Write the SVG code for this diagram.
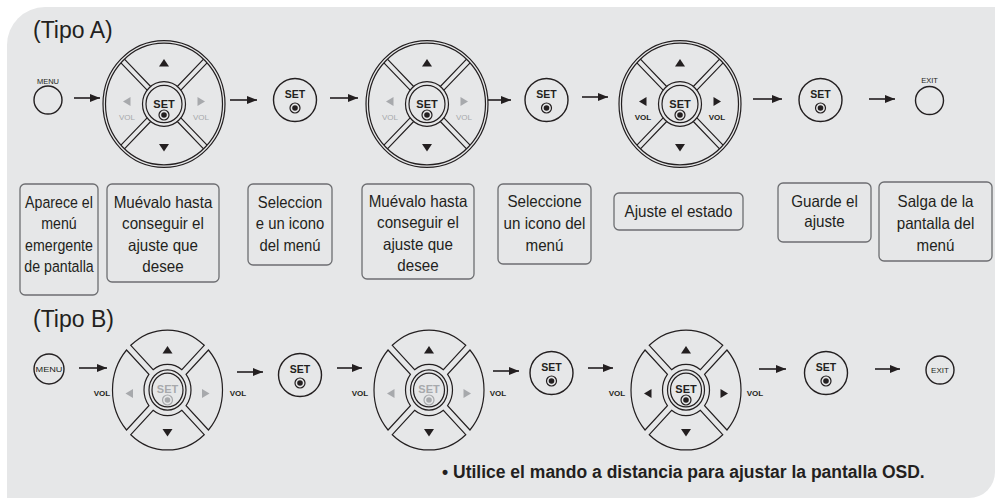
<svg xmlns="http://www.w3.org/2000/svg" xmlns:xlink="http://www.w3.org/1999/xlink" width="995" height="498" viewBox="0 0 995 498">
<style>
.ln{fill:none;stroke:#231f20;stroke-width:1.2}
.btn{fill:none;stroke:#231f20;stroke-width:1.4}
.box{fill:#e6e7e8;stroke:#6d6e71;stroke-width:1.3}
.lbl{font-family:"Liberation Sans",Arial,sans-serif;font-size:16.5px;fill:#231f20;text-anchor:middle}
.ttl{font-family:"Liberation Sans",Arial,sans-serif;font-size:23px;fill:#231f20}
.set{font-family:"Liberation Sans",Arial,sans-serif;font-size:10.5px;font-weight:bold;fill:#231f20;text-anchor:middle}
.sm{font-family:"Liberation Sans",Arial,sans-serif;font-size:7.5px;fill:#231f20;text-anchor:middle}
.vol{font-family:"Liberation Sans",Arial,sans-serif;font-size:8px;fill:#a7a9ac;text-anchor:middle}
.volb{font-family:"Liberation Sans",Arial,sans-serif;font-size:8px;font-weight:bold;fill:#231f20;text-anchor:middle}
.dk{fill:#231f20}
.gy{fill:#a7a9ac}
.arr{stroke:#231f20;stroke-width:1.6;fill:none;marker-end:url(#ah)}
.note{font-family:"Liberation Sans",Arial,sans-serif;font-size:17.5px;font-weight:bold;fill:#231f20}
</style>
<defs>
<marker id="ah" viewBox="0 0 10 8" refX="10" refY="4" markerWidth="10" markerHeight="8" orient="auto" markerUnits="userSpaceOnUse"><path d="M0,0 L10,4 L0,8 Z" fill="#231f20"/></marker>
<path id="diagA" d="M16.87,-13.33 L43.10,-39.56 M13.33,-16.87 L39.56,-43.10"/>
<g id="dialAgeo" class="ln">
<circle r="61"/><circle r="58.5"/><circle r="21.5"/><circle r="18"/>
<use xlink:href="#diagA"/><use xlink:href="#diagA" transform="rotate(90)"/><use xlink:href="#diagA" transform="rotate(180)"/><use xlink:href="#diagA" transform="rotate(270)"/>
</g>
<path id="padB" d="M-36.71,-40.96 A55,55 0 0 1 36.71,-40.96 L14.36,-18.60 A23.5,23.5 0 0 0 -14.36,-18.60 Z"/>
<g id="dialBgeo" class="ln">
<use xlink:href="#padB"/><use xlink:href="#padB" transform="rotate(90)"/><use xlink:href="#padB" transform="rotate(180)"/><use xlink:href="#padB" transform="rotate(270)"/>
<circle r="18.5"/><circle r="15.5"/>
</g>
<g id="setBtn">
<circle r="21.5" class="btn"/>
<text class="set" y="-2.5">SET</text>
<circle cy="8" r="5" class="ln"/><circle cy="8" r="2.8" class="dk"/>
</g>
</defs>

<path d="M7,45 A38,38 0 0 1 45,7 H995 V472 A26,26 0 0 1 969,498 H7 Z" fill="#e6e7e8"/>

<text class="ttl" x="33" y="38">(Tipo A)</text>
<text class="ttl" x="33" y="327">(Tipo B)</text>

<g id="connectors">
<line class="arr" x1="74" y1="98" x2="100" y2="98"/>
<line class="arr" x1="230" y1="100" x2="257" y2="100"/>
<line class="arr" x1="330" y1="98" x2="358" y2="98"/>
<line class="arr" x1="488" y1="100" x2="511" y2="100"/>
<line class="arr" x1="582" y1="97" x2="608" y2="97"/>
<line class="arr" x1="753" y1="99" x2="782" y2="99"/>
<line class="arr" x1="869" y1="99" x2="895" y2="99"/>
<line class="arr" x1="79" y1="368" x2="107" y2="368"/>
<line class="arr" x1="237" y1="372" x2="263" y2="372"/>
<line class="arr" x1="337" y1="368" x2="362" y2="368"/>
<line class="arr" x1="493" y1="371" x2="519" y2="371"/>
<line class="arr" x1="588" y1="368" x2="613" y2="368"/>
<line class="arr" x1="759" y1="369" x2="786" y2="369"/>
<line class="arr" x1="875" y1="369" x2="900" y2="369"/>
</g>

<!-- Tipo A -->
<g id="menuA">
<text class="sm" x="48" y="84">MENU</text>
<circle cx="48" cy="100" r="14" class="btn"/>
</g>
<g id="dialA1" transform="translate(164,104)">
<use xlink:href="#dialAgeo" transform="scale(1,1.04)"/>
<path class="dk" d="M0,-45 L5,-37.5 L-5,-37.5 Z"/>
<path class="dk" d="M0,47.5 L5,40 L-5,40 Z"/>
<path class="gy" d="M-41,-2.5 L-33.5,-7 L-33.5,2 Z"/>
<path class="gy" d="M41,-2.5 L33.5,-7 L33.5,2 Z"/>
<text class="vol" x="-37" y="15.5">VOL</text>
<text class="vol" x="37" y="15.5">VOL</text>
<text class="set" y="3.5" style="font-size:11px">SET</text>
<circle cy="11" r="5" class="ln"/><circle cy="11" r="2.8" class="dk"/>
</g>
<g id="setA1" transform="translate(295,100)"><use xlink:href="#setBtn"/></g>
<g id="dialA2" transform="translate(427,104)">
<use xlink:href="#dialAgeo" transform="scale(1,1.04)"/>
<path class="dk" d="M0,-45 L5,-37.5 L-5,-37.5 Z"/>
<path class="dk" d="M0,47.5 L5,40 L-5,40 Z"/>
<path class="gy" d="M-41,-2.5 L-33.5,-7 L-33.5,2 Z"/>
<path class="gy" d="M41,-2.5 L33.5,-7 L33.5,2 Z"/>
<text class="vol" x="-37" y="15.5">VOL</text>
<text class="vol" x="37" y="15.5">VOL</text>
<text class="set" y="3.5" style="font-size:11px">SET</text>
<circle cy="11" r="5" class="ln"/><circle cy="11" r="2.8" class="dk"/>
</g>
<g id="setA2" transform="translate(546.5,100)"><use xlink:href="#setBtn"/></g>
<g id="dialA3" transform="translate(680,104)">
<use xlink:href="#dialAgeo" transform="scale(1,1.04)"/>
<path class="dk" d="M0,-45 L5,-37.5 L-5,-37.5 Z"/>
<path class="dk" d="M0,47.5 L5,40 L-5,40 Z"/>
<path class="dk" d="M-41,-2.5 L-33.5,-7 L-33.5,2 Z"/>
<path class="dk" d="M41,-2.5 L33.5,-7 L33.5,2 Z"/>
<text class="volb" x="-37" y="15.5">VOL</text>
<text class="volb" x="37" y="15.5">VOL</text>
<text class="set" y="3.5" style="font-size:11px">SET</text>
<circle cy="11" r="5" class="ln"/><circle cy="11" r="2.8" class="dk"/>
</g>
<g id="setA3" transform="translate(820.5,100)"><use xlink:href="#setBtn"/></g>
<g id="exitA">
<text class="sm" x="929.5" y="83">EXIT</text>
<circle cx="929.5" cy="100.5" r="14" class="btn"/>
</g>

<!-- Labels -->
<g id="lbl1"><rect class="box" x="20" y="184" width="78" height="111" rx="5"/>
<g transform="translate(59,0) scale(0.86,1)"><text class="lbl" y="208">Aparece el</text><text class="lbl" y="229.5">menú</text><text class="lbl" y="251">emergente</text><text class="lbl" y="272.5">de pantalla</text></g></g>
<g id="lbl2"><rect class="box" x="107" y="184" width="112" height="98" rx="5"/>
<g transform="translate(163,0) scale(0.92,1)"><text class="lbl" y="208">Muévalo hasta</text><text class="lbl" y="229.5">conseguir el</text><text class="lbl" y="251">ajuste que</text><text class="lbl" y="272.5">desee</text></g></g>
<g id="lbl3"><rect class="box" x="248" y="184" width="84" height="81" rx="5"/>
<g transform="translate(290,0) scale(0.9,1)"><text class="lbl" y="208">Seleccion</text><text class="lbl" y="229.5">e un icono</text><text class="lbl" y="251">del menú</text></g></g>
<g id="lbl4"><rect class="box" x="362" y="184" width="112" height="95" rx="5"/>
<g transform="translate(418,0) scale(0.92,1)"><text class="lbl" y="207">Muévalo hasta</text><text class="lbl" y="228.5">conseguir el</text><text class="lbl" y="250">ajuste que</text><text class="lbl" y="271.5">desee</text></g></g>
<g id="lbl5"><rect class="box" x="498" y="184" width="93" height="80" rx="5"/>
<g transform="translate(544.5,0) scale(0.92,1)"><text class="lbl" y="207">Seleccione</text><text class="lbl" y="229">un icono del</text><text class="lbl" y="251">menú</text></g></g>
<g id="lbl6"><rect class="box" x="614" y="193" width="129" height="37" rx="5"/>
<g transform="translate(678.5,0) scale(0.92,1)"><text class="lbl" y="217">Ajuste el estado</text></g></g>
<g id="lbl7"><rect class="box" x="778" y="183" width="93" height="59" rx="5"/>
<g transform="translate(824.5,0) scale(0.92,1)"><text class="lbl" y="207">Guarde el</text><text class="lbl" y="227">ajuste</text></g></g>
<g id="lbl8"><rect class="box" x="879" y="182" width="113" height="79" rx="5"/>
<g transform="translate(935.5,0) scale(0.92,1)"><text class="lbl" y="207">Salga de la</text><text class="lbl" y="229">pantalla del</text><text class="lbl" y="251">menú</text></g></g>

<!-- Tipo B -->
<g id="menuB">
<circle cx="49" cy="369" r="15" class="btn"/>
<text class="sm" x="49" y="372" style="font-size:8px" textLength="27" lengthAdjust="spacingAndGlyphs">MENU</text>
</g>
<g id="dialB1" transform="translate(167.5,390)">
<use xlink:href="#dialBgeo" transform="scale(1,1.09)"/>
<path class="dk" d="M0,-44 L5,-36.5 L-5,-36.5 Z"/>
<path class="dk" d="M0,46.5 L5,39 L-5,39 Z"/>
<path class="gy" d="M-42,3.5 L-34.5,-1 L-34.5,8 Z"/>
<path class="gy" d="M42,3.5 L34.5,-1 L34.5,8 Z"/>
<text class="set" y="2.5" style="font-size:11px;fill:#a7a9ac">SET</text>
<circle cy="10" r="5" class="ln" style="stroke:#a7a9ac"/><circle cy="10" r="2.8" class="gy"/>
</g>
<text class="volb" x="102" y="396">VOL</text>
<text class="volb" x="238" y="396">VOL</text>
<g id="setB1" transform="translate(300,375)"><use xlink:href="#setBtn"/></g>
<g id="dialB2" transform="translate(429,390)">
<use xlink:href="#dialBgeo" transform="scale(1,1.09)"/>
<path class="dk" d="M0,-44 L5,-36.5 L-5,-36.5 Z"/>
<path class="dk" d="M0,46.5 L5,39 L-5,39 Z"/>
<path class="gy" d="M-42,3.5 L-34.5,-1 L-34.5,8 Z"/>
<path class="gy" d="M42,3.5 L34.5,-1 L34.5,8 Z"/>
<text class="set" y="2.5" style="font-size:11px;fill:#a7a9ac">SET</text>
<circle cy="10" r="5" class="ln" style="stroke:#a7a9ac"/><circle cy="10" r="2.8" class="gy"/>
</g>
<text class="volb" x="360" y="396">VOL</text>
<text class="volb" x="498" y="396">VOL</text>
<g id="setB2" transform="translate(551.5,373)"><use xlink:href="#setBtn"/></g>
<g id="dialB3" transform="translate(686,390)">
<use xlink:href="#dialBgeo" transform="scale(1,1.09)"/>
<path class="dk" d="M0,-44 L5,-36.5 L-5,-36.5 Z"/>
<path class="dk" d="M0,46.5 L5,39 L-5,39 Z"/>
<path class="dk" d="M-42,3.5 L-34.5,-1 L-34.5,8 Z"/>
<path class="dk" d="M42,3.5 L34.5,-1 L34.5,8 Z"/>
<text class="set" y="2.5" style="font-size:11px">SET</text>
<circle cy="10" r="5" class="ln"/><circle cy="10" r="2.8" class="dk"/>
</g>
<text class="volb" x="617" y="396">VOL</text>
<text class="volb" x="755" y="396">VOL</text>
<g id="setB3" transform="translate(826,373)"><use xlink:href="#setBtn"/></g>
<g id="exitB">
<circle cx="940" cy="370" r="14" class="btn"/>
<text class="sm" x="940" y="373" style="font-size:8px">EXIT</text>
</g>

<text class="note" x="442" y="478">• Utilice el mando a distancia para ajustar la pantalla OSD.</text>
</svg>
